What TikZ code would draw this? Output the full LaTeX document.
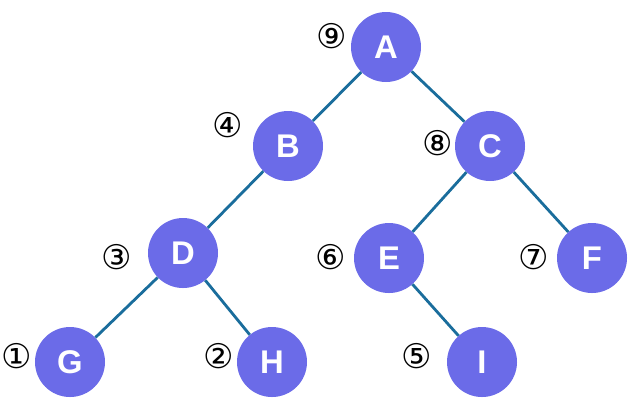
\documentclass[tikz,border=0pt]{standalone}
\usepackage{fontspec}
\setmainfont{Liberation Sans}
\newfontfamily\circfont{DejaVu Sans}

\definecolor{treeFill}{HTML}{6B6BE8}
\definecolor{treeEdge}{HTML}{1A6D9C}
\definecolor{treeText}{HTML}{FFFFFF}

\tikzset{
  treenode/.style={circle,fill=treeFill,minimum size=2.1cm,inner sep=0pt,
    text=treeText,font=\fontsize{28}{28}\selectfont\bfseries},
  ordlabel/.style={inner sep=0pt,font=\circfont\fontsize{29}{29}\selectfont},
  treeline/.style={treeEdge,line width=2.4pt}
}

\begin{document}
\begin{tikzpicture}[x=0.03cm,y=-0.03cm]
  \useasboundingbox (0,0) rectangle (629,406);

  \node[treenode] (A) at (386,47) {A};
  \node[treenode] (B) at (288,146) {B};
  \node[treenode] (C) at (490,146) {C};
  \node[treenode] (D) at (183,253) {D};
  \node[treenode] (E) at (389,258) {E};
  \node[treenode] (F) at (592,258) {F};
  \node[treenode] (G) at (70,362) {G};
  \node[treenode] (H) at (272,362) {H};
  \node[treenode] (I) at (482,362) {I};

  \draw[treeline] (A) -- (B);
  \draw[treeline] (A) -- (C);
  \draw[treeline] (B) -- (D);
  \draw[treeline] (C) -- (E);
  \draw[treeline] (C) -- (F);
  \draw[treeline] (D) -- (G);
  \draw[treeline] (D) -- (H);
  \draw[treeline] (E) -- (I);

  \node[ordlabel] (o1) at (17,356) {①};
  \node[ordlabel] (o2) at (219,356) {②};
  \node[ordlabel] (o3) at (117,257) {③};
  \node[ordlabel] (o4) at (228,125) {④};
  \node[ordlabel] (o5) at (417,356) {⑤};
  \node[ordlabel] (o6) at (331,257) {⑥};
  \node[ordlabel] (o7) at (534,257) {⑦};
  \node[ordlabel] (o8) at (438,143) {⑧};
  \node[ordlabel] (o9) at (332,36) {⑨};
\end{tikzpicture}
\end{document}
